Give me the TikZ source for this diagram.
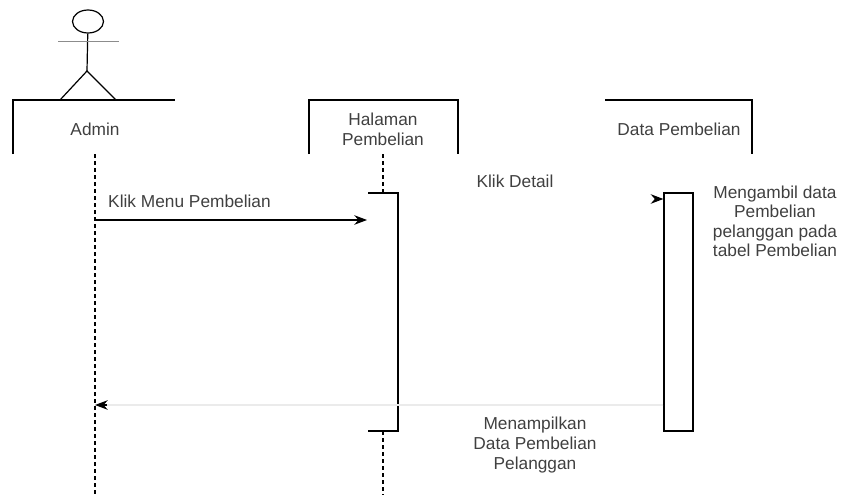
\documentclass[tikz,border=0pt]{standalone}
\usepackage{fontspec}
\setmainfont{Liberation Sans}
\usepackage{tikz}
\usetikzlibrary{arrows.meta}
\usetikzlibrary{calc}
\usetikzlibrary{positioning}
\usetikzlibrary{shapes}

\tikzset{
  lifeline/.style={draw,line width=1.1pt,dash pattern=on 4pt off 3pt},
  message/.style={draw,line width=1.1pt,-{Stealth[scale=1.6]}},
  label/.style={text=black!75,font=\fontsize{17.3}{20}\selectfont,align=center,inner sep=0pt},
}

\begin{document}
\begin{tikzpicture}[x=1pt,y=-1pt,line width=1.2pt]
      \useasboundingbox (0,0) rectangle (841,495);
      % actor
      \node[draw,ellipse,minimum width=31pt,minimum height=23pt,inner sep=0pt] (head) at (88,21.5) {};
      \coordinate (hip) at (87,71);
      \coordinate (armLeft) at (58,41);
      \coordinate (armRight) at (119,41);
      \coordinate (footLeft) at (60,100);
      \coordinate (footRight) at (116,100);
      \draw (head) -- (hip);
      \draw[black!45,line width=0.7pt] (armLeft) -- (armRight);
      \draw (footLeft) -- (hip) -- (footRight);
      % headers
      \draw (13,154) -- (13,100) -- (175,100);
      \draw (309,154) -- (309,100) -- (458,100) -- (458,154);
      \draw (605,100) -- (752,100) -- (752,154);
      \node[label] (admin) at (95,129) {Admin};
      \node[label] (halaman) at (383,129) {Halaman\\Pembelian};
      \node[label] (data) at (679,129) {Data Pembelian};
      % lifelines
      \coordinate (adminTop) at (95,154);
      \coordinate (adminEnd) at (95,495);
      \coordinate (halamanTop) at (383,154);
      \coordinate (halamanBarTop) at (383,193);
      \coordinate (halamanBarEnd) at (383,431);
      \coordinate (halamanEnd) at (383,495);
      \draw[lifeline] (adminTop) -- (adminEnd);
      \draw[lifeline] (halamanTop) -- (halamanBarTop);
      \draw[lifeline] (halamanBarEnd) -- (halamanEnd);
      % activations
      \draw (368,193) -- (398,193) -- (398,431) -- (368,431);
      \node[draw,minimum width=29pt,minimum height=238pt,inner sep=0pt] (dataBar) at (678.5,312) {};
      % messages
      \coordinate (klikStart) at (95,220);
      \coordinate (klikEnd) at (367,220);
      \coordinate (detailStart) at (652,199);
      \coordinate (detailEnd) at (dataBar.west |- detailStart);
      \coordinate (backStart) at (dataBar.west |- 0,405);
      \coordinate (backEnd) at (95,405);
      \coordinate (backTip) at (107,405);
      \draw[message] (klikStart) -- (klikEnd);
      \draw[black!8,line width=1.1pt] (backStart) -- (backTip);
      \draw[message] (backTip) -- (backEnd);
      \draw[message] ($(detailEnd)+(-5,0)$) -- (detailEnd);
      % labels
      \node[label] (klikMenu) at (189.5,201) {Klik Menu Pembelian};
      \node[label] (klikDetail) at (515,181) {Klik Detail};
      \node[label,font=\fontsize{17.3}{19.5}\selectfont] (mengambil) at (775,221.5) {Mengambil data\\Pembelian\\pelanggan pada\\tabel Pembelian};
      \node[label] (menampilkan) at (535,445) {Menampilkan\\Data Pembelian\\Pelanggan};
    \end{tikzpicture}
\end{document}
